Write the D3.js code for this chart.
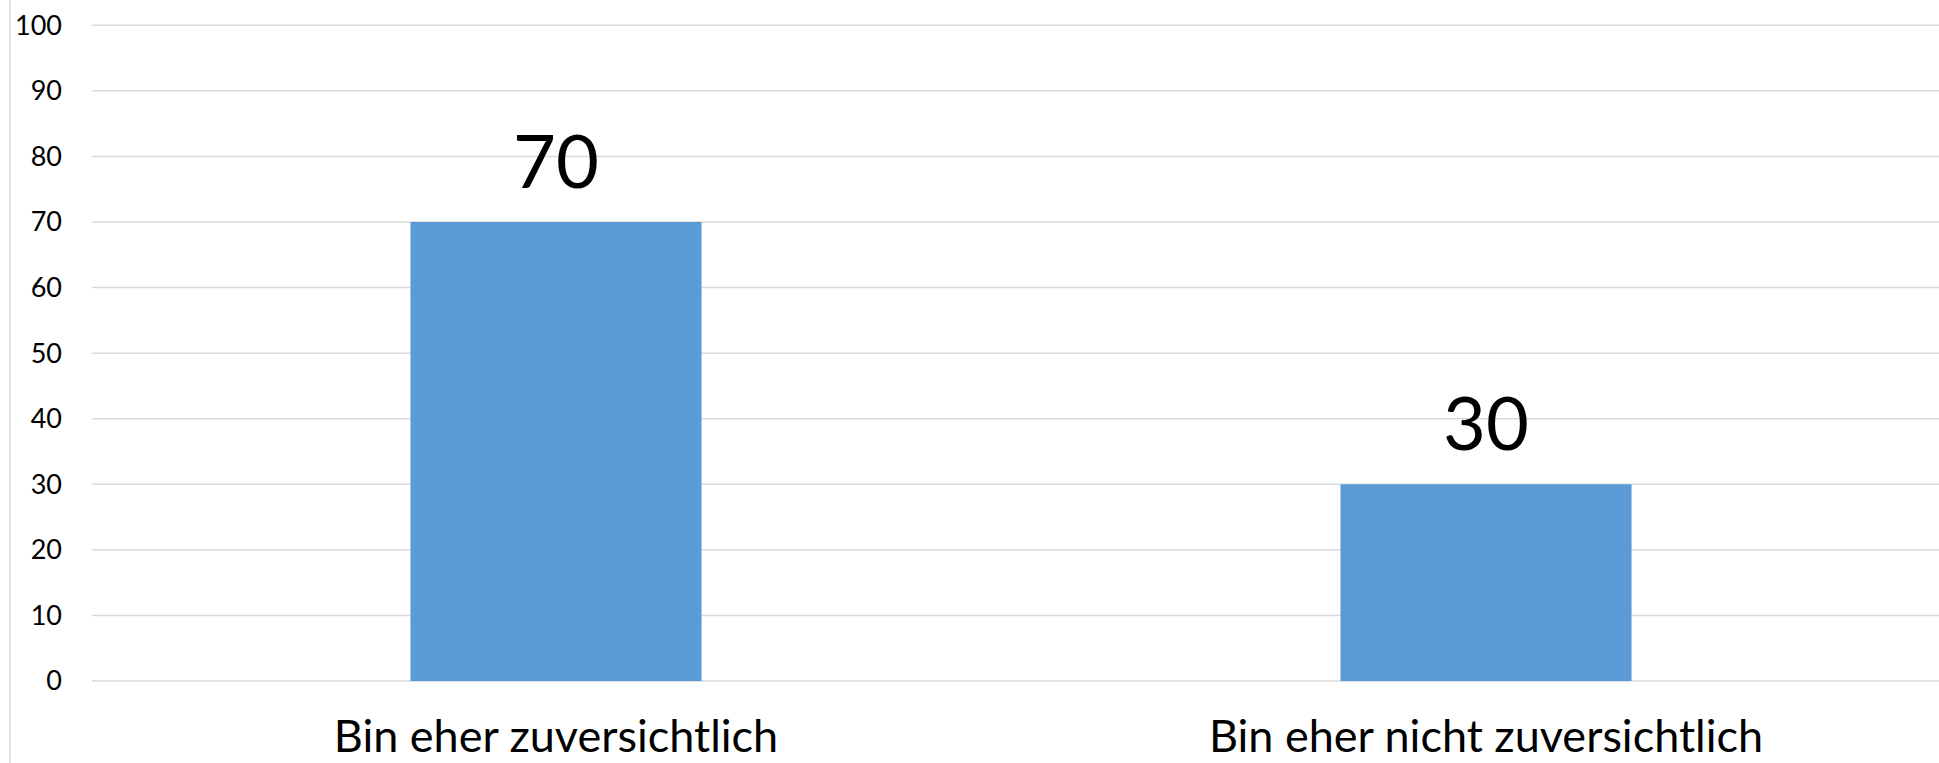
<!DOCTYPE html>
<html>
<head>
<meta charset="utf-8">
<script src="https://cdn.jsdelivr.net/npm/d3@7"></script>
<style>
    body { margin: 0; background: #fff; }
    svg { display: block; font-family: Lato, "Open Sans", sans-serif; }
    .grid line { stroke: #d9d9d9; stroke-width: 1.5; }
    .tick-label { font-size: 27px; fill: #000; }
    .value { font-size: 74px; fill: #000; }
    .category { font-size: 45px; fill: #000; }
</style>
</head>
<body>
<div id="chart"></div>
<script>
// Chart data.
var categories = ["Bin eher zuversichtlich", "Bin eher nicht zuversichtlich"];
var values = [70, 30];
var yTicks = [0, 10, 20, 30, 40, 50, 60, 70, 80, 90, 100];

var width = 1939,
    height = 763;

var svg = d3.select("#chart").append("svg")
    .attr("width", width)
    .attr("height", height);

// The plot runs a little past the right edge, like the cropped original.
var x = d3.scaleBand()
    .domain(categories)
    .range([91, 1951])
    .paddingInner(0.687)
    .paddingOuter(0.3435);

var y = d3.scaleLinear()
    .domain([0, 100])
    .range([681, 25.3]);

// Chart border on the left.
svg.append("line")
    .attr("x1", 10).attr("x2", 10)
    .attr("y1", 0).attr("y2", height)
    .attr("stroke", "#d9d9d9")
    .attr("stroke-width", 1.5);

// Gridlines.
svg.append("g").attr("class", "grid")
  .selectAll("line").data(yTicks)
  .enter().append("line")
    .attr("x1", 92)
    .attr("x2", width)
    .attr("y1", function(d) { return y(d); })
    .attr("y2", function(d) { return y(d); });

// Y tick labels.
svg.append("g")
  .selectAll("text").data(yTicks)
  .enter().append("text")
    .attr("class", "tick-label")
    .attr("x", 62)
    .attr("y", function(d) { return y(d); })
    .attr("dy", "0.35em")
    .attr("text-anchor", "end")
    .text(function(d) { return d; });

// Bars.
svg.append("g")
  .selectAll("rect").data(values)
  .enter().append("rect")
    .attr("x", function(d, i) { return x(categories[i]); })
    .attr("y", function(d) { return y(d); })
    .attr("width", x.bandwidth())
    .attr("height", function(d) { return y(0) - y(d); })
    .attr("fill", "#5b9bd5");

// Value labels above bars.
svg.append("g")
  .selectAll("text").data(values)
  .enter().append("text")
    .attr("class", "value")
    .attr("x", function(d, i) { return x(categories[i]) + x.bandwidth() / 2; })
    .attr("y", function(d) { return y(d) - 34; })
    .attr("text-anchor", "middle")
    .text(function(d) { return d; });

// Category labels.
svg.append("g")
  .selectAll("text").data(categories)
  .enter().append("text")
    .attr("class", "category")
    .attr("x", function(d) { return x(d) + x.bandwidth() / 2; })
    .attr("y", 752)
    .attr("text-anchor", "middle")
    .text(function(d) { return d; });
</script>
</body>
</html>
